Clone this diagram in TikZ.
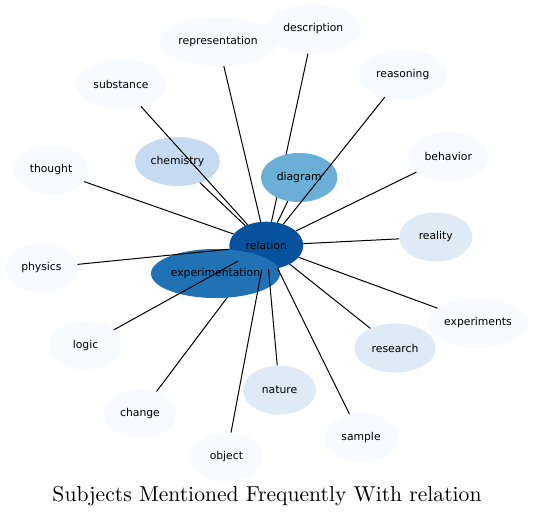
\documentclass[tikz,border=0pt]{standalone}
\usepackage{fontspec}
\setsansfont{DejaVu Sans}
\newfontfamily\titlefont{lmroman10-regular}[Extension=.otf]
\usetikzlibrary{shapes.geometric}
\definecolor{bA}{HTML}{F7FBFF}
\definecolor{bB}{HTML}{DEEBF7}
\definecolor{bC}{HTML}{C6DBEF}
\definecolor{bD}{HTML}{6BAED6}
\definecolor{bE}{HTML}{2171B5}
\definecolor{bF}{HTML}{08519C}
\tikzset{
  nd/.style={ellipse, inner sep=0pt, minimum height=49pt, draw=none,
    font=\sffamily\fontsize{10.8}{12}\selectfont, text=black},
  edge/.style={draw=black, line width=1pt},
}
\begin{document}
\begin{tikzpicture}[x=1pt,y=-1pt]
\useasboundingbox (0,0) rectangle (534,517);
\fill[white] (0,0) rectangle (534,517);
% nodes
\node[nd, fill=bA, minimum width=118pt] (representation) at (218,41.5) {representation};
\node[nd, fill=bA, minimum width=95.4pt] (description) at (313.3,29) {description};
\node[nd, fill=bA, minimum width=90.4pt] (substance) at (121,84.3) {substance};
\node[nd, fill=bA, minimum width=89pt] (reasoning) at (402.8,74.5) {reasoning};
\node[nd, fill=bA, minimum width=74.4pt] (thought) at (51,170) {thought};
\node[nd, fill=bC, minimum width=85pt] (chemistry) at (177.5,161.5) {chemistry};
\node[nd, fill=bA, minimum width=81.4pt] (behavior) at (448.3,156.5) {behavior};
\node[nd, fill=bF, minimum width=74pt, minimum height=47.6pt] (relation) at (266.3,245.5) {relation};
\node[nd, fill=bB, minimum width=73pt] (reality) at (435.8,237) {reality};
\node[nd, fill=bA, minimum width=72.6pt] (physics) at (41.4,268) {physics};
\node[nd, fill=bA, minimum width=101pt] (experiments) at (478,323) {experiments};
\node[nd, fill=bA, minimum width=72.6pt] (logic) at (85.5,345.5) {logic};
\node[nd, fill=bB, minimum width=81.4pt] (research) at (395,348) {research};
\node[nd, fill=bB, minimum width=73pt] (nature) at (279.5,390) {nature};
\node[nd, fill=bA, minimum width=72.6pt] (change) at (140,413.5) {change};
\node[nd, fill=bA, minimum width=73pt] (sample) at (361,437.5) {sample};
\node[nd, fill=bA, minimum width=72.6pt] (object) at (226.4,457) {object};
% edge hidden under experimentation
\draw[edge] (relation) -- (change);
\node[nd, fill=bE, minimum width=129pt] (experimentation) at (215.5,273.5) {experimentation};
% edge hidden under diagram
\draw[edge] (relation) -- (description);
\node[nd, fill=bD, minimum width=76.4pt] (diagram) at (299.2,177.5) {diagram};
% remaining edges
\foreach \t in {representation,substance,reasoning,thought,chemistry,diagram,behavior,reality,physics,experiments,logic,research,nature,sample,object}
  \draw[edge] (relation) -- (\t);
% title
\node[font=\titlefont\fontsize{21.6}{24}\selectfont] (title) at (267,496) {Subjects Mentioned Frequently With relation};
\end{tikzpicture}
\end{document}
